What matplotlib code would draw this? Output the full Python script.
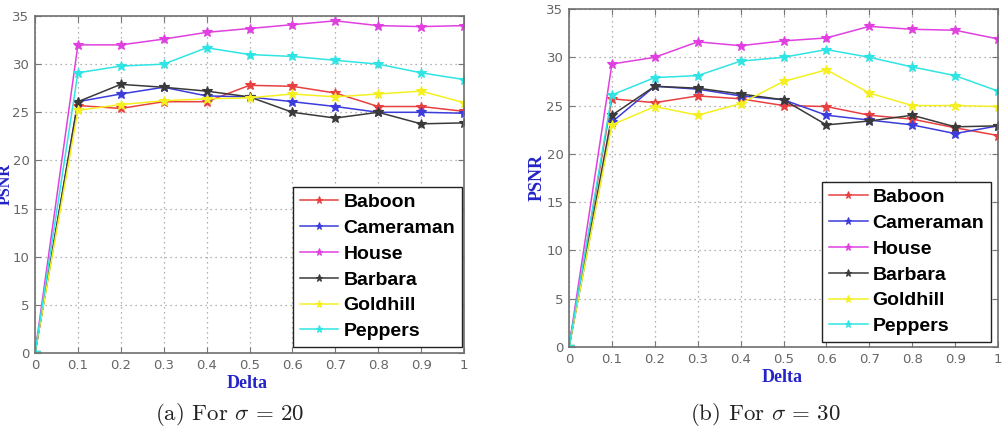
import matplotlib
matplotlib.use("Agg")
import matplotlib.pyplot as plt
import numpy as np

delta = [0, 0.1, 0.2, 0.3, 0.4, 0.5, 0.6, 0.7, 0.8, 0.9, 1.0]
names = ["Baboon", "Cameraman", "House", "Barbara", "Goldhill", "Peppers"]

# sigma = 20
baboon_20    = [0, 25.7, 25.4, 26.1, 26.1, 27.8, 27.7, 27.0, 25.6, 25.6, 25.1]
cameraman_20 = [0, 26.1, 26.9, 27.6, 26.7, 26.6, 26.1, 25.6, 25.0, 25.0, 24.9]
house_20     = [0, 32.0, 32.0, 32.6, 33.3, 33.7, 34.1, 34.5, 34.0, 33.9, 34.0]
barbara_20   = [0, 26.1, 27.9, 27.6, 27.2, 26.6, 25.0, 24.4, 25.0, 23.8, 23.9]
goldhill_20  = [0, 25.2, 25.8, 26.2, 26.4, 26.5, 26.9, 26.6, 26.9, 27.2, 26.0]
peppers_20   = [0, 29.1, 29.8, 30.0, 31.7, 31.0, 30.8, 30.4, 30.0, 29.1, 28.4]

# sigma = 30
baboon_30    = [0, 25.7, 25.3, 26.0, 25.7, 25.0, 24.9, 24.0, 23.6, 22.7, 21.9]
cameraman_30 = [0, 23.3, 27.0, 26.7, 26.0, 25.6, 24.0, 23.5, 23.0, 22.1, 22.9]
house_30     = [0, 29.3, 30.0, 31.6, 31.2, 31.7, 32.0, 33.2, 32.9, 32.8, 31.9]
barbara_30   = [0, 24.0, 27.0, 26.8, 26.2, 25.6, 23.0, 23.4, 24.0, 22.8, 22.9]
goldhill_30  = [0, 23.0, 24.9, 24.0, 25.2, 27.5, 28.7, 26.3, 25.0, 25.0, 24.9]
peppers_30   = [0, 26.1, 27.9, 28.1, 29.6, 30.0, 30.8, 30.0, 29.0, 28.1, 26.5]

series_20 = [baboon_20, cameraman_20, house_20, barbara_20, goldhill_20, peppers_20]
series_30 = [baboon_30, cameraman_30, house_30, barbara_30, goldhill_30, peppers_30]

colors = ["#e84040", "#3c3cdc", "#e040e0", "#3a3a3a", "#f4f020", "#30e4e4"]

xticks = [0, 0.1, 0.2, 0.3, 0.4, 0.5, 0.6, 0.7, 0.8, 0.9, 1]
xticklabels = ["0", "0.1", "0.2", "0.3", "0.4", "0.5", "0.6", "0.7", "0.8", "0.9", "1"]
yticks = [0, 5, 10, 15, 20, 25, 30, 35]

W, H = 1005, 429
plt.rcParams["mathtext.fontset"] = "cm"
fig = plt.figure(figsize=(W / 100, H / 100), dpi=100)

def px_axes(x0, y0, x1, y1):
    return fig.add_axes([x0 / W, 1 - y1 / H, (x1 - x0) / W, (y1 - y0) / H])

def draw(ax, data, leg_anchor):
    for name, vals, c in zip(names, data, colors):
        ax.plot(delta, vals, color=c, lw=1.1, marker="*", ms=7,
                markeredgewidth=0.8, label=name)
    ax.set_xlim(0, 1)
    ax.set_ylim(0, 35)
    ax.set_xticks(xticks)
    ax.set_xticklabels(xticklabels)
    ax.set_yticks(yticks)
    ax.grid(True, color="#9a9a9a", linestyle=(0, (1, 3)), linewidth=0.9)
    ax.tick_params(direction="in", length=4, width=0.8, colors="#777777",
                   labelcolor="#666666", labelsize=9.5, top=True, right=True, pad=4)
    for s in ax.spines.values():
        s.set_color("#707070")
        s.set_linewidth(1.2)
    leg = ax.legend(loc="lower right", bbox_to_anchor=leg_anchor,
                    prop={"family": "Liberation Sans", "weight": "bold", "size": 14},
                    frameon=True, fancybox=False, edgecolor="#222222",
                    handlelength=2.0, handletextpad=0.25, labelspacing=0.42,
                    borderpad=0.35, borderaxespad=0.0, markerscale=0.75)
    leg.get_frame().set_linewidth(1.0)
    leg.get_frame().set_alpha(1)

ax1 = px_axes(35, 16, 464, 353)
draw(ax1, series_20, (0.995, 0.018))
ax2 = px_axes(569, 9, 998, 347)
draw(ax2, series_30, (0.984, 0.015))

lab_kw = dict(family="Liberation Serif", weight="bold", color="#2424c8", size=13)
fig.text(6 / W, 1 - 184 / H, "PSNR", rotation=90, ha="center", va="center",
         **dict(lab_kw, size=11.5))
fig.text(537 / W, 1 - 178 / H, "PSNR", rotation=90, ha="center", va="center", **lab_kw)
fig.text(247 / W, 1 - 384 / H, "Delta", ha="center", va="center", **lab_kw)
fig.text(782 / W, 1 - 377 / H, "Delta", ha="center", va="center", **lab_kw)

cap_kw = dict(family="cmr10", size=16.5, color="#222222", ha="center", va="center")
fig.text(230 / W, 1 - 414 / H, r"(a) For $\sigma\,=\,20$", **cap_kw)
fig.text(765 / W, 1 - 414 / H, r"(b) For $\sigma\,=\,30$", **cap_kw)

fig.savefig("out.png", dpi=100)
